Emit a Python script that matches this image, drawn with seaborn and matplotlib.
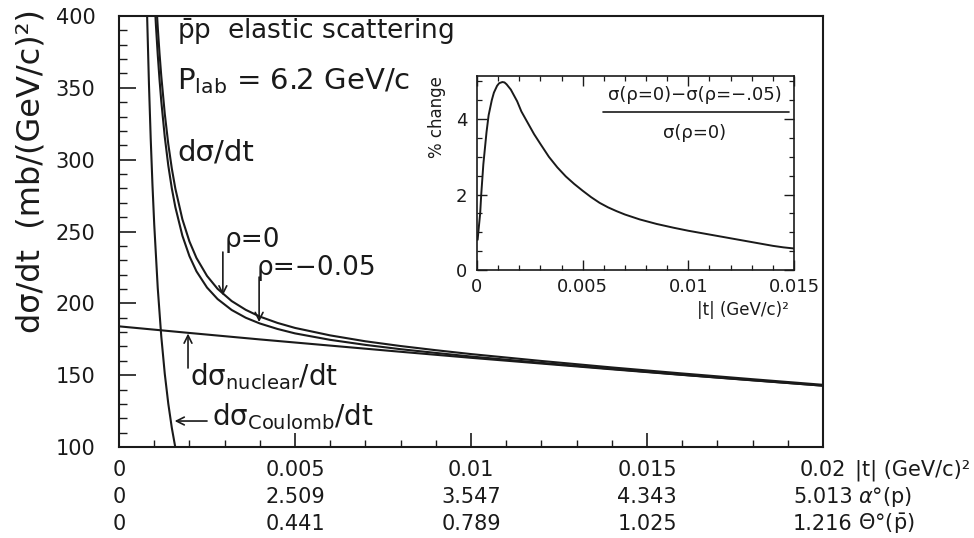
import matplotlib
matplotlib.use("Agg")
import matplotlib.pyplot as plt
from matplotlib.ticker import MultipleLocator, FixedLocator, FixedFormatter
from matplotlib.lines import Line2D
import seaborn as sns

# ---------------- data ----------------
t_coulomb = [0.00078, 0.0008, 0.00085, 0.0009, 0.00095, 0.001, 0.0011, 0.0012,
             0.0013, 0.0014, 0.0015, 0.0016, 0.0017]
coulomb = [419.1, 398.4, 352.9, 314.8, 282.5, 255.0, 210.7, 177.1,
           150.9, 130.1, 113.3, 99.6, 88.2]

t_nuclear = [0, 0.002, 0.004, 0.006, 0.008, 0.010, 0.012, 0.014, 0.016, 0.018, 0.020]
nuclear = [184.0, 179.4, 174.9, 170.6, 166.3, 162.1, 158.1, 154.1, 150.2, 146.4, 142.7]

t_total = [0.00095, 0.001, 0.00105, 0.0011, 0.00115, 0.0012, 0.0013, 0.0014, 0.0015,
           0.0016, 0.0018, 0.002, 0.0022, 0.0025, 0.0028, 0.0032, 0.0036, 0.004,
           0.0045, 0.005, 0.006, 0.007, 0.008, 0.009, 0.010, 0.012, 0.014, 0.016,
           0.018, 0.020]
total_rho0 = [464.3, 436.7, 412.9, 392.2, 374.1, 358.3, 331.9, 310.8, 293.8,
              279.9, 258.5, 243.1, 231.6, 219.1, 210.1, 201.6, 195.5, 190.8,
              186.4, 182.9, 177.7, 173.6, 170.3, 167.4, 164.7, 159.9, 155.4, 151.2,
              147.2, 143.3]
total_rho005 = [442.1, 415.6, 392.9, 373.1, 355.9, 340.8, 315.8, 295.9, 280.0,
                267.0, 247.1, 232.9, 222.3, 211.0, 203.0, 195.4, 190.0, 186.0,
                182.2, 179.1, 174.6, 171.1, 168.1, 165.5, 163.0, 158.6, 154.4, 150.3,
                146.5, 142.7]

t_pct = [0.00003, 0.00008, 0.00015, 0.0002, 0.0003, 0.00045, 0.00055, 0.0007, 0.0008,
         0.00095, 0.00105, 0.0012, 0.0013, 0.0014, 0.0016, 0.0019, 0.0021, 0.0024,
         0.0027, 0.003, 0.0034, 0.0038, 0.0042, 0.0046, 0.005, 0.0054, 0.0058,
         0.0062, 0.0066, 0.007, 0.0077, 0.0085, 0.0093, 0.01, 0.0109, 0.0117,
         0.0125, 0.0133, 0.014, 0.0145, 0.015]
pct_change = [0.8, 1.1, 1.5, 2.0, 2.8, 3.65, 4.1, 4.5, 4.7,
              4.88, 4.95, 4.98, 4.97, 4.92, 4.78, 4.47, 4.2, 3.9,
              3.6, 3.34, 3.0, 2.72, 2.48, 2.28, 2.1, 1.93, 1.78,
              1.66, 1.56, 1.47, 1.34, 1.22, 1.12, 1.04, 0.95, 0.87,
              0.79, 0.71, 0.64, 0.6, 0.57]

t_ticks = [0, 0.005, 0.01, 0.015, 0.02]
t_labels = ["0", "0.005", "0.01", "0.015", "0.02"]
alpha_labels = ["0", "2.509", "3.547", "4.343", "5.013"]
theta_labels = ["0", "0.441", "0.789", "1.025", "1.216"]

inset_xticks = [0, 0.005, 0.01, 0.015]
inset_xlabels = ["0", "0.005", "0.01", "0.015"]
inset_yticks = [0, 2, 4]
inset_ylabels = ["0", "2", "4"]

# ---------------- style ----------------
sns.set_style("ticks")
plt.rcParams['font.family'] = ['DejaVu Sans']
plt.rcParams['mathtext.fontset'] = 'dejavusans'
INK = '#1a1a1a'
plt.rcParams['text.color'] = INK
plt.rcParams['axes.edgecolor'] = INK
plt.rcParams['xtick.color'] = INK
plt.rcParams['ytick.color'] = INK

fig = plt.figure(figsize=(9.74, 5.38), dpi=100)
fig.patch.set_facecolor('white')

# ---------------- main axes ----------------
ax = fig.add_axes([0.1222, 0.1691, 0.7228, 0.8011])
lw = 1.5
sns.lineplot(x=t_coulomb, y=coulomb, ax=ax, color=INK, lw=lw)
sns.lineplot(x=t_nuclear, y=nuclear, ax=ax, color=INK, lw=lw)
sns.lineplot(x=t_total, y=total_rho0, ax=ax, color=INK, lw=lw)
sns.lineplot(x=t_total, y=total_rho005, ax=ax, color=INK, lw=lw)

ax.set_xlim(0, 0.02)
ax.set_ylim(100, 400)
for s in ax.spines.values():
    s.set_linewidth(1.5)
    s.set_visible(True)

ax.xaxis.set_major_locator(FixedLocator(t_ticks))
ax.xaxis.set_major_formatter(FixedFormatter(t_labels))
ax.xaxis.set_minor_locator(MultipleLocator(0.001))
ax.yaxis.set_major_locator(MultipleLocator(50))
ax.yaxis.set_minor_locator(MultipleLocator(10))
ax.tick_params(axis='x', which='major', direction='in', length=10, width=1.2,
               labelsize=15, pad=9, top=False)
ax.tick_params(axis='x', which='minor', direction='in', length=5, width=1.0, top=False)
ax.tick_params(axis='y', which='major', direction='in', length=12, width=1.2,
               labelsize=15, pad=17, right=False)
ax.tick_params(axis='y', which='minor', direction='in', length=6, width=1.0, right=False)

# second and third rows of the x scale (alpha and theta angles)
for tk, a_lab, th_lab in zip(t_ticks, alpha_labels, theta_labels):
    ax.annotate(a_lab, xy=(tk, 0), xycoords=('data', 'axes fraction'), xytext=(0, -40.0),
                textcoords='offset points', ha='center', va='baseline', fontsize=15)
    ax.annotate(th_lab, xy=(tk, 0), xycoords=('data', 'axes fraction'), xytext=(0, -59.4),
                textcoords='offset points', ha='center', va='baseline', fontsize=15)

fig.text(31 / 974, 1 - 171 / 538, "dσ/dt  (mb/(GeV/c)²)", rotation=90,
         ha='center', va='center', fontsize=23)

# row titles to the right of the last tick label
ax.annotate("|t| (GeV/c)²", xy=(1, 0), xycoords='axes fraction', xytext=(23, -20.5),
            textcoords='offset points', ha='left', va='baseline', fontsize=15)
ax.annotate(r"$\alpha$°(p)", xy=(1, 0), xycoords='axes fraction', xytext=(25, -40.0),
            textcoords='offset points', ha='left', va='baseline', fontsize=15)
ax.annotate(r"$\Theta$°($\bar{\mathrm{p}}$)", xy=(1, 0), xycoords='axes fraction',
            xytext=(25, -59.4), textcoords='offset points', ha='left', va='baseline',
            fontsize=15)

# texts inside main panel
ax.text(0.00165, 384.0, r"$\bar{\mathrm{p}}$p  elastic scattering", fontsize=19,
        va='baseline')
ax.text(0.00165, 349.2, r"P$_{\mathrm{lab}}$ = 6.2 GeV/c", fontsize=21, va='baseline')
ax.text(0.00165, 299.1, "dσ/dt", fontsize=21, va='baseline')
ax.text(0.00301, 239.2, "ρ=0", fontsize=19, va='baseline')
ax.text(0.00392, 219.7, "ρ=−0.05", fontsize=19, va='baseline')
ax.text(0.00202, 143.2, r"dσ$_{\mathrm{nuclear}}$/dt", fontsize=20, va='baseline')
ax.text(0.00264, 115.0, r"dσ$_{\mathrm{Coulomb}}$/dt", fontsize=20, va='baseline')

arrow = dict(arrowstyle='->', lw=1.2, color=INK, shrinkA=0, shrinkB=0, mutation_scale=14)
ax.annotate("", xy=(0.00295, 205.5), xytext=(0.00295, 235.7), arrowprops=arrow)
ax.annotate("", xy=(0.00398, 187.0), xytext=(0.00398, 218.3), arrowprops=arrow)
ax.annotate("", xy=(0.00196, 179.0), xytext=(0.00196, 155.0), arrowprops=arrow)
ax.annotate("", xy=(0.00158, 118.1), xytext=(0.0025, 118.1), arrowprops=arrow)

# ---------------- inset ----------------
axi = fig.add_axes([477 / 974, 1 - 270 / 538, 317 / 974, 194 / 538])
sns.lineplot(x=t_pct, y=pct_change, ax=axi, color=INK, lw=1.4)
axi.set_xlim(0, 0.015)
axi.set_ylim(0, 5.14)
for s in axi.spines.values():
    s.set_linewidth(1.2)
    s.set_visible(True)
axi.xaxis.set_major_locator(FixedLocator(inset_xticks))
axi.xaxis.set_major_formatter(FixedFormatter(inset_xlabels))
axi.xaxis.set_minor_locator(MultipleLocator(0.001))
axi.yaxis.set_major_locator(FixedLocator(inset_yticks))
axi.yaxis.set_major_formatter(FixedFormatter(inset_ylabels))
axi.yaxis.set_minor_locator(MultipleLocator(0.5))
axi.tick_params(which='major', direction='in', length=7, width=1.0, labelsize=13,
                top=True, right=True)
axi.tick_params(which='minor', direction='in', length=3.5, width=0.9, top=True, right=True)
axi.tick_params(axis='x', pad=6)
axi.tick_params(axis='y', pad=7)
axi.set_xlabel("")
axi.set_ylabel("")

fig.text(437 / 974, 1 - 117 / 538, "% change", rotation=90, ha='center', va='center',
         fontsize=12)
fig.text(789 / 974, 1 - 310 / 538, "|t| (GeV/c)²", ha='right', va='center', fontsize=12)

axi.text(0.688, 0.902, "σ(ρ=0)−σ(ρ=−.05)", transform=axi.transAxes, ha='center',
         va='center', fontsize=13)
axi.add_line(Line2D([0.397, 0.984], [0.814, 0.814], transform=axi.transAxes,
                    color=INK, lw=1.2))
axi.text(0.685, 0.706, "σ(ρ=0)", transform=axi.transAxes, ha='center', va='center',
         fontsize=13)

fig.savefig("out.png", dpi=100)
